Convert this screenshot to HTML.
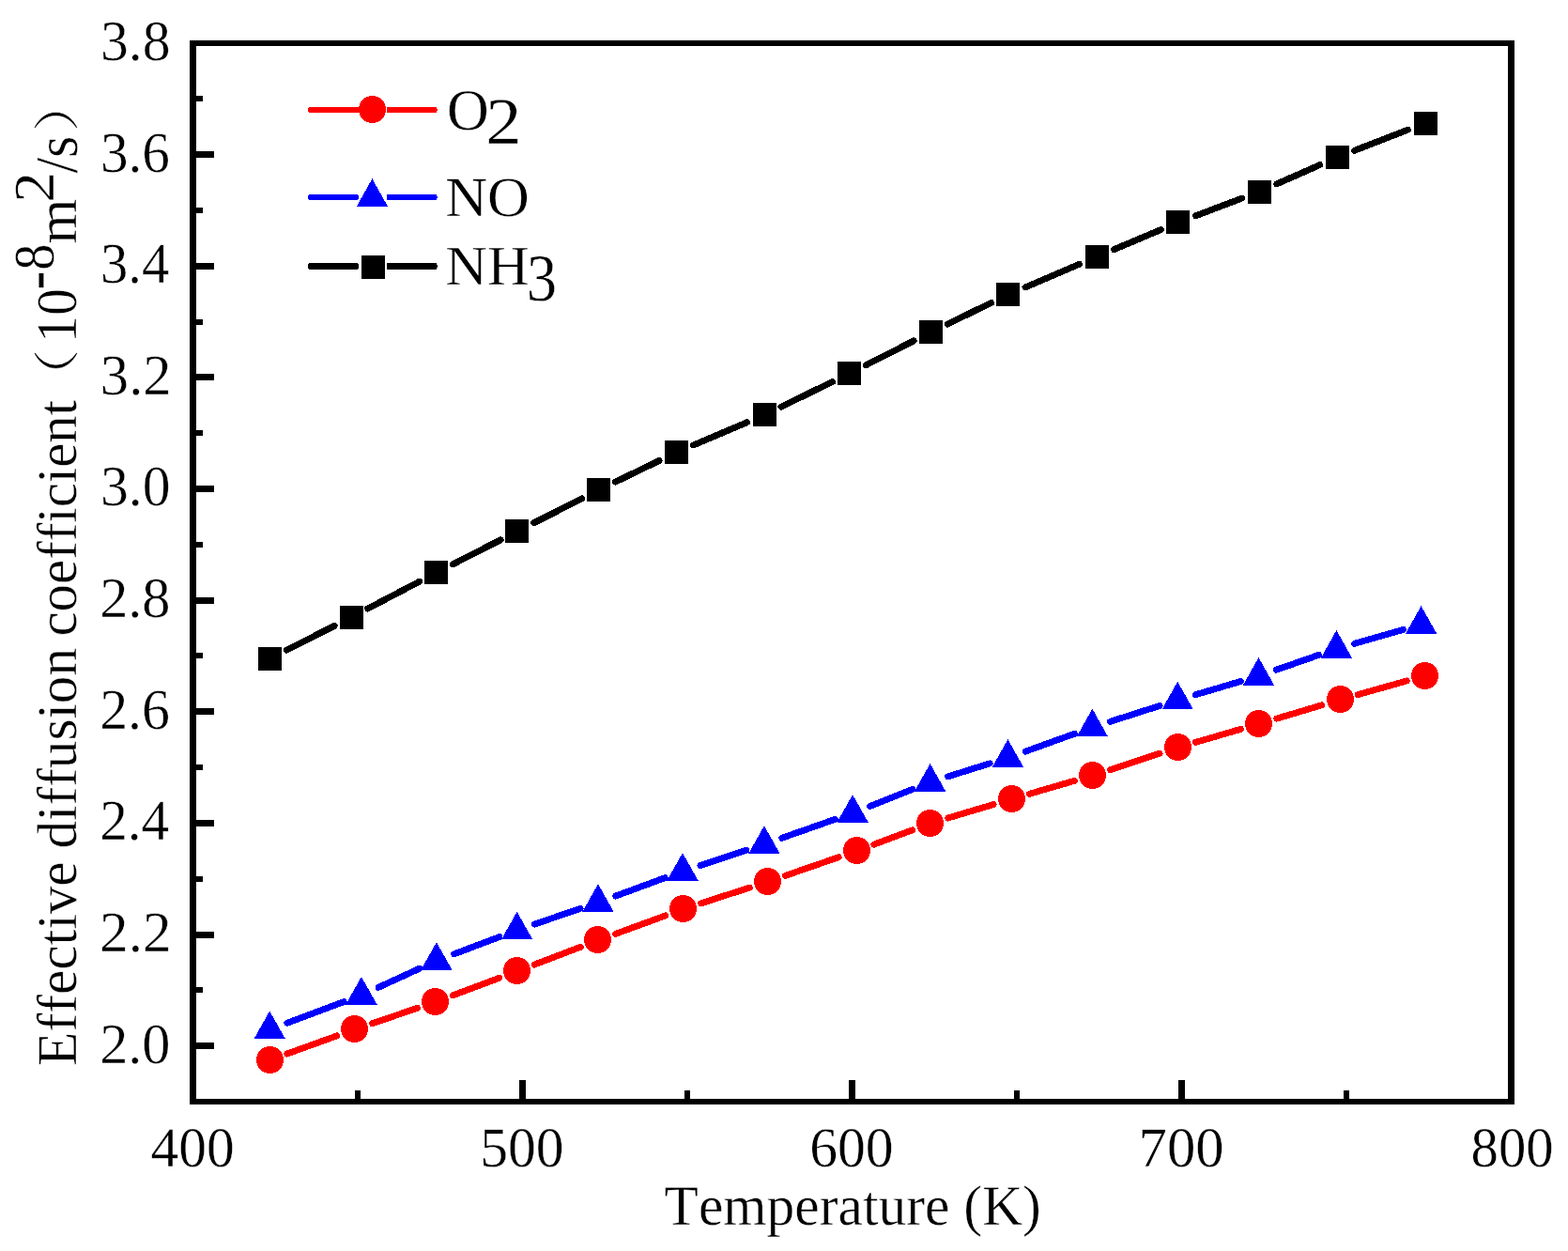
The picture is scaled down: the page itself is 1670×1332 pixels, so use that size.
<!DOCTYPE html>
<html lang="en"><head><meta charset="utf-8"><title>Effective diffusion coefficient vs Temperature</title>
<style>html,body{margin:0;padding:0;background:#fff;}body{width:1670px;height:1332px;overflow:hidden;}svg{display:block;}text{font-family:"Liberation Serif","Noto Serif CJK SC",serif;fill:#000;font-kerning:none;font-variant-ligatures:none;text-rendering:geometricPrecision;}</style>
</head><body>
<svg width="1670" height="1332" viewBox="0 0 1670 1332">
<rect x="0" y="0" width="1670" height="1332" fill="#fff"/>
<g id="series-nh3" shape-rendering="crispEdges"><path d="M305.23 692.24L356.17 666.36M391.72 648.02L446.78 619.18M482.31 600.81L533.09 574.89M568.73 556.74L619.67 530.86M655.50 513.08L702.10 490.52M738.51 473.98L795.59 449.72M831.98 433.14L886.52 406.56M922.33 388.74L973.27 362.86M1009.10 345.07L1055.60 322.53M1091.99 305.93L1149.61 281.27M1186.43 265.64L1236.47 244.56M1273.60 229.72L1322.80 211.08M1359.79 195.91L1405.71 175.59M1442.64 160.26L1499.36 138.24" fill="none" stroke="#000" stroke-width="6.90" stroke-linecap="round"/><rect x="274.80" y="688.80" width="25.40" height="25.40" fill="#000"/><rect x="361.80" y="644.80" width="25.40" height="25.40" fill="#000"/><rect x="451.80" y="596.80" width="25.40" height="25.40" fill="#000"/><rect x="537.80" y="552.80" width="25.40" height="25.40" fill="#000"/><rect x="624.80" y="508.80" width="25.40" height="25.40" fill="#000"/><rect x="707.80" y="468.80" width="25.40" height="25.40" fill="#000"/><rect x="801.80" y="428.80" width="25.40" height="25.40" fill="#000"/><rect x="891.80" y="384.80" width="25.40" height="25.40" fill="#000"/><rect x="978.80" y="340.80" width="25.40" height="25.40" fill="#000"/><rect x="1060.80" y="300.80" width="25.40" height="25.40" fill="#000"/><rect x="1155.80" y="260.80" width="25.40" height="25.40" fill="#000"/><rect x="1241.80" y="223.80" width="25.40" height="25.40" fill="#000"/><rect x="1328.80" y="191.80" width="25.40" height="25.40" fill="#000"/><rect x="1411.80" y="154.80" width="25.40" height="25.40" fill="#000"/><rect x="1505.80" y="118.80" width="25.40" height="25.40" fill="#000"/></g>
<g id="series-o2" shape-rendering="crispEdges"><path d="M305.81 1122.02L358.89 1102.88M396.63 1089.66L444.57 1073.34M482.22 1059.86L531.78 1041.24M569.18 1027.06L618.22 1008.34M655.68 994.33L708.82 974.87M746.63 961.84L798.47 945.06M836.40 932.37L893.20 912.73M930.82 899.16L971.78 883.74M1009.67 871.00L1058.03 856.60M1096.40 845.31L1144.30 831.39M1182.50 819.55L1235.10 802.25M1273.30 790.41L1321.40 776.39M1359.77 765.10L1407.83 750.80M1446.24 739.66L1498.26 724.94" fill="none" stroke="#f00" stroke-width="6.90" stroke-linecap="round"/><circle cx="287.50" cy="1128.50" r="14.50" fill="#f00"/><circle cx="377.50" cy="1095.50" r="14.50" fill="#f00"/><circle cx="463.50" cy="1066.50" r="14.50" fill="#f00"/><circle cx="550.50" cy="1033.50" r="14.50" fill="#f00"/><circle cx="636.50" cy="1000.50" r="14.50" fill="#f00"/><circle cx="727.50" cy="967.50" r="14.50" fill="#f00"/><circle cx="817.50" cy="938.50" r="14.50" fill="#f00"/><circle cx="912.50" cy="905.50" r="14.50" fill="#f00"/><circle cx="990.50" cy="876.50" r="14.50" fill="#f00"/><circle cx="1077.50" cy="850.50" r="14.50" fill="#f00"/><circle cx="1163.50" cy="825.50" r="14.50" fill="#f00"/><circle cx="1254.50" cy="795.50" r="14.50" fill="#f00"/><circle cx="1340.50" cy="770.50" r="14.50" fill="#f00"/><circle cx="1427.50" cy="744.50" r="14.50" fill="#f00"/><circle cx="1517.50" cy="719.50" r="14.50" fill="#f00"/></g>
<g id="series-no" shape-rendering="crispEdges"><path d="M305.94 1089.20L366.16 1066.70M403.07 1051.34L446.73 1031.26M483.61 1015.83L531.89 997.57M569.52 984.02L618.08 967.38M655.77 954.00L708.23 934.70M745.98 921.49L794.92 905.21M832.77 892.27L889.23 872.43M926.67 858.37L972.03 840.23M1009.69 826.83L1054.31 812.87M1092.21 800.11L1144.59 781.19M1182.45 768.32L1235.15 751.48M1273.37 739.71L1321.33 725.49M1359.38 713.20L1404.52 697.40M1442.62 685.28L1494.38 670.42" fill="none" stroke="#00f" stroke-width="6.90" stroke-linecap="round"/><polygon points="287.20,1076.47 303.85,1106.07 270.55,1106.07" fill="#00f"/><polygon points="384.90,1039.97 401.55,1069.57 368.25,1069.57" fill="#00f"/><polygon points="464.90,1003.17 481.55,1032.77 448.25,1032.77" fill="#00f"/><polygon points="550.60,970.77 567.25,1000.37 533.95,1000.37" fill="#00f"/><polygon points="637.00,941.17 653.65,970.77 620.35,970.77" fill="#00f"/><polygon points="727.00,908.07 743.65,937.67 710.35,937.67" fill="#00f"/><polygon points="813.90,879.17 830.55,908.77 797.25,908.77" fill="#00f"/><polygon points="908.10,846.07 924.75,875.67 891.45,875.67" fill="#00f"/><polygon points="990.60,813.07 1007.25,842.67 973.95,842.67" fill="#00f"/><polygon points="1073.40,787.17 1090.05,816.77 1056.75,816.77" fill="#00f"/><polygon points="1163.40,754.67 1180.05,784.27 1146.75,784.27" fill="#00f"/><polygon points="1254.20,725.67 1270.85,755.27 1237.55,755.27" fill="#00f"/><polygon points="1340.50,700.07 1357.15,729.67 1323.85,729.67" fill="#00f"/><polygon points="1423.40,671.07 1440.05,700.67 1406.75,700.67" fill="#00f"/><polygon points="1513.60,645.17 1530.25,674.77 1496.95,674.77" fill="#00f"/></g>
<g id="axes" fill="#000" shape-rendering="crispEdges">
<rect x="202" y="43" width="1411" height="6"/>
<rect x="202" y="1170" width="1411" height="6"/>
<rect x="202" y="43" width="7" height="1133"/>
<rect x="1606" y="43" width="7" height="1133"/>
<rect x="553" y="1150" width="7" height="21"/>
<rect x="904" y="1150" width="7" height="21"/>
<rect x="1255" y="1150" width="7" height="21"/>
<rect x="378" y="1161" width="6" height="10"/>
<rect x="729" y="1161" width="6" height="10"/>
<rect x="1080" y="1161" width="6" height="10"/>
<rect x="1431" y="1161" width="6" height="10"/>
<rect x="208" y="1110" width="20" height="7"/>
<rect x="208" y="992" width="20" height="7"/>
<rect x="208" y="873" width="20" height="7"/>
<rect x="208" y="754" width="20" height="7"/>
<rect x="208" y="636" width="20" height="7"/>
<rect x="208" y="517" width="20" height="7"/>
<rect x="208" y="398" width="20" height="7"/>
<rect x="208" y="280" width="20" height="7"/>
<rect x="208" y="161" width="20" height="7"/>
<rect x="208" y="1051" width="8" height="6"/>
<rect x="208" y="933" width="8" height="6"/>
<rect x="208" y="814" width="8" height="6"/>
<rect x="208" y="695" width="8" height="6"/>
<rect x="208" y="577" width="8" height="6"/>
<rect x="208" y="458" width="8" height="6"/>
<rect x="208" y="340" width="8" height="6"/>
<rect x="208" y="221" width="8" height="6"/>
<rect x="208" y="102" width="8" height="6"/>
</g>
<g id="ylabels">
<text transform="translate(106.92,63.89) scale(0.9942,1.0112)" font-size="60" stroke="#fff" stroke-width="0.4" xml:space="preserve">3.8</text>
<text transform="translate(106.94,182.52) scale(0.9871,1.0175)" font-size="60" stroke="#fff" stroke-width="0.4" xml:space="preserve">3.6</text>
<text transform="translate(106.97,301.15) scale(0.9767,1.0175)" font-size="60" stroke="#fff" stroke-width="0.4" xml:space="preserve">3.4</text>
<text transform="translate(106.87,419.79) scale(1.0088,1.0175)" font-size="60" stroke="#fff" stroke-width="0.4" xml:space="preserve">3.2</text>
<text transform="translate(106.92,538.42) scale(0.9942,1.0112)" font-size="60" stroke="#fff" stroke-width="0.4" xml:space="preserve">3.0</text>
<text transform="translate(106.14,657.05) scale(1.0050,1.0112)" font-size="60" stroke="#fff" stroke-width="0.4" xml:space="preserve">2.8</text>
<text transform="translate(106.16,775.68) scale(0.9979,1.0175)" font-size="60" stroke="#fff" stroke-width="0.4" xml:space="preserve">2.6</text>
<text transform="translate(106.18,894.31) scale(0.9873,1.0175)" font-size="60" stroke="#fff" stroke-width="0.4" xml:space="preserve">2.4</text>
<text transform="translate(106.10,1012.94) scale(1.0196,1.0175)" font-size="60" stroke="#fff" stroke-width="0.4" xml:space="preserve">2.2</text>
<text transform="translate(106.14,1131.58) scale(1.0050,1.0112)" font-size="60" stroke="#fff" stroke-width="0.4" xml:space="preserve">2.0</text>
</g>
<g id="xlabels">
<text transform="translate(160.51,1241.75) scale(0.9907,1.0000)" font-size="60" stroke="#fff" stroke-width="0.4" xml:space="preserve">400</text>
<text transform="translate(511.17,1241.75) scale(0.9946,1.0000)" font-size="60" stroke="#fff" stroke-width="0.4" xml:space="preserve">500</text>
<text transform="translate(862.16,1241.75) scale(0.9947,1.0000)" font-size="60" stroke="#fff" stroke-width="0.4" xml:space="preserve">600</text>
<text transform="translate(1212.60,1241.75) scale(1.0126,1.0000)" font-size="60" stroke="#fff" stroke-width="0.4" xml:space="preserve">700</text>
<text transform="translate(1566.55,1241.75) scale(0.9788,1.0000)" font-size="60" stroke="#fff" stroke-width="0.4" xml:space="preserve">800</text>
</g>
<text id="xtitle" transform="translate(707.56,1304.41) scale(0.9916,1.0074)" font-size="60" stroke="#fff" stroke-width="0.4" xml:space="preserve">Temperature (K)</text>
<g id="ytitle">
<text transform="rotate(-90) translate(-1134.88,81.20) scale(0.9898,1.0000)" font-size="60" stroke="#fff" stroke-width="0.4" xml:space="preserve">Effective</text>
<text transform="rotate(-90) translate(-903.46,81.20) scale(0.9850,1.0000)" font-size="60" stroke="#fff" stroke-width="0.4" xml:space="preserve">diffusion</text>
<text transform="rotate(-90) translate(-677.55,81.20) scale(0.9811,1.0000)" font-size="60" stroke="#fff" stroke-width="0.4" xml:space="preserve">coefficient</text>
<text transform="rotate(-90) translate(-430.20,78.00) scale(0.9758,0.8148)" font-size="60" stroke="#fff" stroke-width="0.4" xml:space="preserve">（</text>
<text transform="rotate(-90) translate(-364.88,81.35) scale(0.9596,1.0175)" font-size="60" stroke="#fff" stroke-width="0.4" xml:space="preserve">10</text>
<text transform="rotate(-90) translate(-308.38,61.62) scale(0.9933,1.2750)" font-size="60" stroke="#fff" stroke-width="0.4" xml:space="preserve">-</text>
<text transform="rotate(-90) translate(-287.74,57.35) scale(0.9360,1.0150)" font-size="60" stroke="#fff" stroke-width="0.4" xml:space="preserve">8</text>
<text transform="rotate(-90) translate(-259.43,81.46) scale(1.0227,1.0234)" font-size="60" stroke="#fff" stroke-width="0.4" xml:space="preserve">m</text>
<text transform="rotate(-90) translate(-215.58,57.15) scale(1.0821,1.0166)" font-size="60" stroke="#fff" stroke-width="0.4" xml:space="preserve">2</text>
<text transform="rotate(-90) translate(-184.50,81.80) scale(0.9973,1.0651)" font-size="60" stroke="#fff" stroke-width="0.4" xml:space="preserve">/s</text>
<text transform="rotate(-90) translate(-140.22,78.00) scale(0.9939,0.8148)" font-size="60" stroke="#fff" stroke-width="0.4" xml:space="preserve">）</text>
</g>
<g id="legend" shape-rendering="crispEdges">
<rect x="328" y="113.9" width="56.0" height="6.2" rx="2.4" fill="#f00"/><rect x="411.6" y="113.9" width="54.1" height="6.2" rx="2.4" fill="#f00"/><circle cx="396.50" cy="116.50" r="14.50" fill="#f00"/>
<text transform="translate(475.96,137.74) scale(1.0342,1.0314)" font-size="60" stroke="#fff" stroke-width="0.4" xml:space="preserve">O</text>
<text transform="translate(517.34,153.36) scale(1.1252,1.0360)" font-size="68" stroke="#fff" stroke-width="0.4" xml:space="preserve">2</text>
<rect x="328" y="206.9" width="54.0" height="6.2" rx="2.4" fill="#00f"/><rect x="411.6" y="206.9" width="54.1" height="6.2" rx="2.4" fill="#00f"/><polygon points="396.40,190.27 413.05,219.87 379.75,219.87" fill="#00f"/>
<text transform="translate(474.13,230.35) scale(1.0354,0.9962)" font-size="60" stroke="#fff" stroke-width="0.4" xml:space="preserve">NO</text>
<rect x="328" y="279.9" width="54.0" height="7.2" rx="2.4" fill="#000"/><rect x="411.6" y="279.9" width="54.1" height="7.2" rx="2.4" fill="#000"/><rect x="384.80" y="271.80" width="25.40" height="25.40" fill="#000"/>
<text transform="translate(474.13,302.95) scale(1.0332,0.9935)" font-size="60" stroke="#fff" stroke-width="0.4" xml:space="preserve">NH</text>
<text transform="translate(560.77,319.58) scale(0.9514,1.0475)" font-size="68" stroke="#fff" stroke-width="0.4" xml:space="preserve">3</text>
</g>
</svg></body></html>
